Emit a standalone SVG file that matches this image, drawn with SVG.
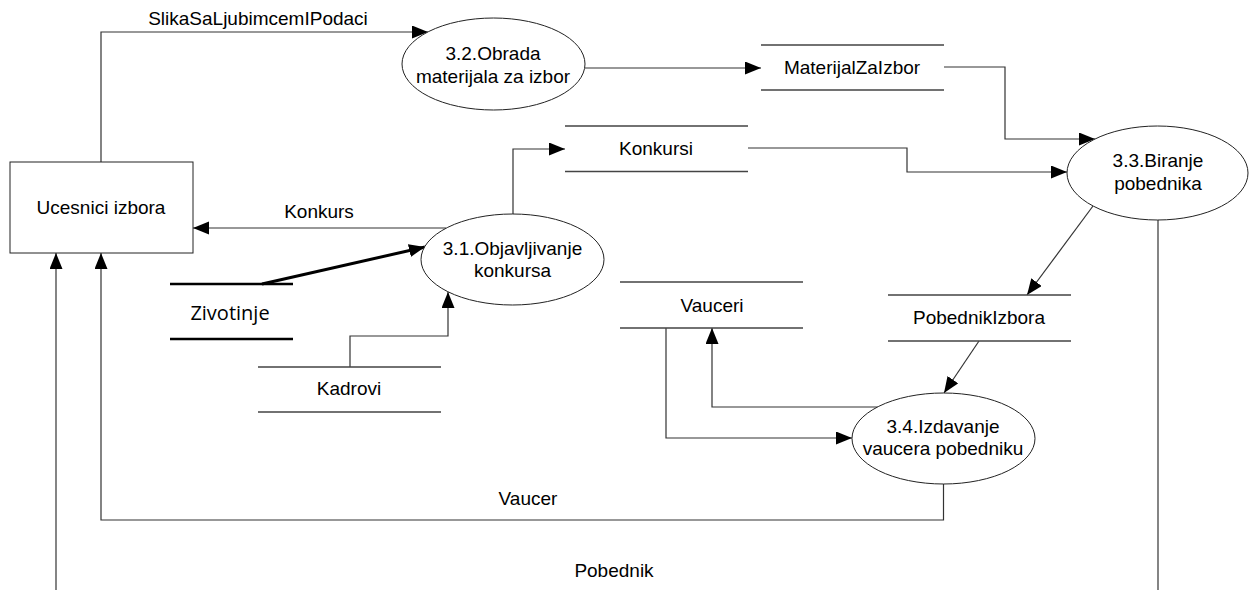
<svg xmlns="http://www.w3.org/2000/svg" width="1250" height="590" viewBox="0 0 1250 590">
<defs>
<marker id="ah" markerUnits="userSpaceOnUse" markerWidth="17" markerHeight="14" refX="16" refY="6.5" orient="auto">
<path d="M0,0 L16,6.5 L0,13 Z" fill="#000"/>
</marker>
<style>
.t{font-family:"Liberation Sans",Arial,sans-serif;font-size:19px;fill:#000;text-anchor:middle}
.z{font-family:"Open Sans","Liberation Sans",sans-serif;font-size:20px;fill:#000;text-anchor:middle}
.p{fill:#fff;stroke:#222;stroke-width:1}
.s{stroke:#444;stroke-width:1.4;fill:none}
.sz{stroke:#000;stroke-width:2.5;fill:none}
.c{stroke:#333;stroke-width:1.2;fill:none}
.ca{stroke:#333;stroke-width:1.2;fill:none;marker-end:url(#ah)}
.thick{stroke:#000;stroke-width:3;fill:none;marker-end:url(#ah)}
</style>
</defs>
<rect width="1250" height="590" fill="#fff"/>
<g id="connectors">
<path class="ca" d="M101,162 V32 H428"/>
<path class="ca" d="M585,68 H761"/>
<path class="ca" d="M944,67 H1005 V139 H1095"/>
<path class="ca" d="M748,148 H907 V172 H1067"/>
<path class="ca" d="M513,214 V149 H565"/>
<path class="ca" d="M446,228 H193"/>
<path class="thick" d="M262,284 L425,247"/>
<path class="ca" d="M350,367 V336 H448 V292"/>
<path class="ca" d="M1093,206 L1027,295"/>
<path class="ca" d="M979,341 L944,393"/>
<path class="ca" d="M878,407 H712 V328"/>
<path class="ca" d="M666,328 V438 H852"/>
<path class="ca" d="M943.5,484 V520 H101 V253"/>
<path class="ca" d="M56,590 V253"/>
<path class="c" d="M1158,220 V590"/>
<text class="t" x="258" y="25">SlikaSaLjubimcemIPodaci</text>
<text class="t" x="319" y="218">Konkurs</text>
<text class="t" x="528" y="505">Vaucer</text>
<text class="t" x="614" y="577">Pobednik</text>
</g>
<g id="ucesnici">
<rect class="p" x="10" y="162" width="183" height="91"/>
<text class="t" x="101" y="214">Ucesnici izbora</text>
</g>
<g id="p32">
<ellipse class="p" cx="493.5" cy="64" rx="91.5" ry="46"/>
<text class="t" x="493" y="60">3.2.Obrada</text>
<text class="t" x="493" y="83">materijala za izbor</text>
</g>
<g id="materijal">
<path class="s" d="M761,45 H944 M761,90 H944"/>
<text class="t" x="852" y="74">MaterijalZaIzbor</text>
</g>
<g id="konkursi">
<path class="s" d="M565,126 H748 M565,171.5 H748"/>
<text class="t" x="656" y="155">Konkursi</text>
</g>
<g id="p33">
<ellipse class="p" cx="1157.5" cy="173" rx="90.5" ry="47"/>
<text class="t" x="1158" y="167">3.3.Biranje</text>
<text class="t" x="1158" y="190">pobednika</text>
</g>
<g id="p31">
<ellipse class="p" cx="512.5" cy="259.5" rx="91.5" ry="45.5"/>
<text class="t" x="512.5" y="255">3.1.Objavljivanje</text>
<text class="t" x="512.5" y="277">konkursa</text>
</g>
<g id="zivotinje">
<path class="sz" d="M170,284 H293 M170,339 H293"/>
<text class="z" x="230" y="320">Zivotinje</text>
</g>
<g id="kadrovi">
<path class="s" d="M258,367 H441 M258,412 H441"/>
<text class="t" x="349" y="395">Kadrovi</text>
</g>
<g id="vauceri">
<path class="s" d="M620,282 H803 M620,328 H803"/>
<text class="t" x="712" y="312">Vauceri</text>
</g>
<g id="pobednikIzbora">
<path class="s" d="M888,295 H1071 M888,341 H1071"/>
<text class="t" x="979" y="324">PobednikIzbora</text>
</g>
<g id="p34">
<ellipse class="p" cx="943.5" cy="438.5" rx="91.5" ry="45.5"/>
<text class="t" x="943" y="433">3.4.Izdavanje</text>
<text class="t" x="943" y="455">vaucera pobedniku</text>
</g>
</svg>
